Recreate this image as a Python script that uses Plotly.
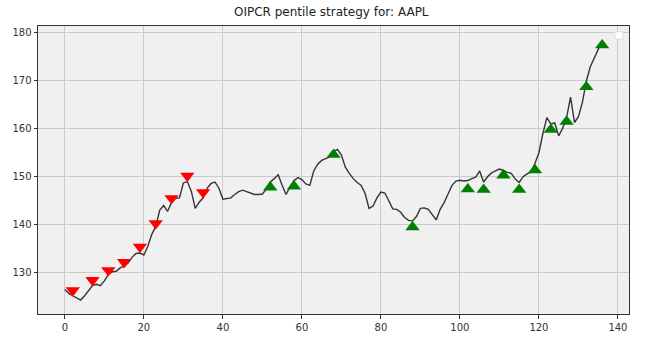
import plotly.graph_objects as go

# Price series (index 0..136)
prices = [
    126.5, 125.7, 125.2, 124.8, 124.3, 125.2, 126.2, 127.3, 127.6, 127.3,
    128.3, 129.6, 130.2, 130.3, 131.0, 131.4, 132.0, 133.2, 134.0, 134.1,
    133.7, 135.5, 138.0, 139.6, 143.0, 144.0, 142.8, 144.6, 145.5, 145.6,
    148.7, 149.0, 147.0, 143.4, 144.7, 145.6, 147.6, 148.6, 148.9, 147.6,
    145.3, 145.4, 145.6, 146.3, 146.9, 147.2, 146.9, 146.5, 146.3, 146.3,
    146.4, 147.4, 148.9, 149.6, 150.4, 148.2, 146.3, 147.9, 149.2, 149.8,
    149.4, 148.5, 148.2, 151.2, 152.6, 153.4, 153.8, 154.1, 155.3, 155.7,
    154.5, 152.0, 150.7, 149.6, 148.8, 148.2, 146.5, 143.4, 143.9, 145.6,
    146.8, 146.6, 145.0, 143.3, 143.2, 142.6, 141.5, 140.9, 140.8, 141.7,
    143.4, 143.5, 143.2, 142.0, 141.0, 143.2, 144.6, 146.4, 148.2, 149.1,
    149.25, 149.1, 149.2, 149.6, 149.9, 151.2, 148.9, 150.0, 150.8, 151.2,
    151.6, 151.3, 150.9, 150.7, 149.5, 148.8, 150.0, 150.6, 151.0, 152.8,
    155.0, 159.0, 162.3, 161.0, 161.2, 158.5, 160.1, 162.3, 166.6, 161.3,
    162.5, 165.5, 169.9, 172.9, 174.7, 176.2, 178.3,
]
days = list(range(len(prices)))

# Sell signals (red, down triangles)
sell_days = [2, 7, 11, 15, 19, 23, 27, 31, 35]
sell_marks = [126.3, 128.45, 130.5, 132.2, 135.4, 140.3, 145.5, 150.2, 146.75]

# Buy signals (green, up triangles)
buy_days = [52, 58, 68, 88, 102, 106, 111, 115, 119, 123, 127, 132, 136]
buy_marks = [147.8, 148.0, 154.6, 139.5, 147.4, 147.3, 150.3, 147.3, 151.4,
             159.8, 161.5, 168.7, 177.4]

x_ticks = [0, 20, 40, 60, 80, 100, 120, 140]
y_ticks = [130, 140, 150, 160, 170, 180]
title_text = "OIPCR pentile strategy for: AAPL"

fig = go.Figure()
fig.add_trace(go.Scatter(
    x=days, y=prices, mode="lines",
    line=dict(color="rgba(20,20,20,0.85)", width=1.4),
    showlegend=False, hoverinfo="skip",
))
fig.add_trace(go.Scatter(
    x=sell_days, y=sell_marks, mode="markers",
    marker=dict(symbol="triangle-down", size=12.5, color="#ff0000",
                line=dict(width=0)),
    showlegend=False,
))
fig.add_trace(go.Scatter(
    x=buy_days, y=buy_marks, mode="markers",
    marker=dict(symbol="triangle-up", size=12.5, color="#008000",
                line=dict(width=0)),
    showlegend=False,
))

axis_common = dict(
    showgrid=True, gridcolor="#cbcbcb", gridwidth=1,
    showline=True, linecolor="#333333", linewidth=1, mirror=True,
    ticks="outside", ticklen=3.5, tickcolor="#333333", tickwidth=1,
    tickfont=dict(family="DejaVu Sans", size=10, color="#333333"),
    zeroline=False,
)

fig.update_layout(
    width=647, height=345,
    margin=dict(l=34, r=18, t=26, b=28),
    paper_bgcolor="white", plot_bgcolor="#f0f0f0",
    title=dict(text=title_text, x=0.512, xanchor="center", y=0.965, yanchor="middle",
               font=dict(family="DejaVu Sans", size=12, color="#222222")),
    xaxis=dict(range=[-6.8, 142.8], tickvals=x_ticks, **axis_common),
    yaxis=dict(range=[121.4, 181.4], tickvals=y_ticks, **axis_common),
    shapes=[dict(type="rect", xref="paper", yref="paper",
                 x0=0.9765, x1=0.99, y0=0.955, y1=0.98,
                 fillcolor="white", line=dict(color="#e0e0e0", width=1))],
)

fig.write_html("out.html", config={"displayModeBar": False})
